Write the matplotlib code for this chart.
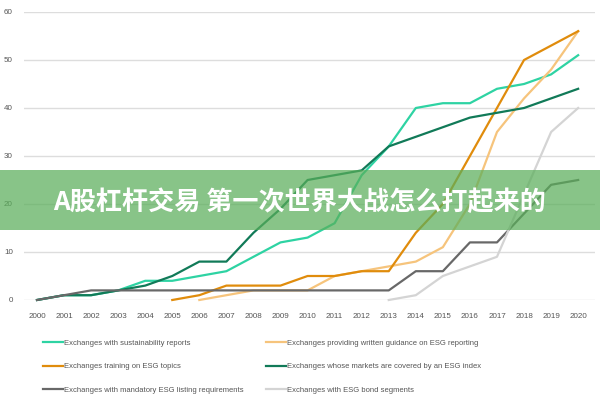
import matplotlib.pyplot as plt
from matplotlib.patches import Rectangle

years = list(range(2000, 2021))

# 各系列数值
sustainability = [0, 1, 1, 2, 4, 4, 5, 6, 9, 12, 13, 16, 26, 32, 40, 41, 41, 44, 45, 47, 51]
guidance_years = list(range(2006, 2021))
guidance = [0, 1, 2, 2, 2, 5, 6, 7, 8, 11, 20, 35, 42, 48, 56]
training_years = list(range(2005, 2021))
training = [0, 1, 3, 3, 3, 5, 5, 6, 6, 14, 20, 30, 40, 50, 53, 56]
esg_index = [0, 1, 1, 2, 3, 5, 8, 8, 14, 19, 25, 26, 27, 32, 34, 36, 38, 39, 40, 42, 44]
mandatory = [0, 1, 2, 2, 2, 2, 2, 2, 2, 2, 2, 2, 2, 2, 6, 6, 12, 12, 18, 24, 25]
bond_years = list(range(2013, 2021))
bond = [0, 1, 5, 7, 9, 22, 35, 40]

labels = ['Exchanges with sustainability reports',
          'Exchanges providing written guidance on ESG reporting',
          'Exchanges training on ESG topics',
          'Exchanges whose markets are covered by an ESG index',
          'Exchanges with mandatory ESG listing requirements',
          'Exchanges with ESG bond segments']
colors = ['#2ed3a3', '#f6c47c', '#e08c0c', '#117a58', '#686868', '#d4d4d4']

banner_text = 'A股杠杆交易 第一次世界大战怎么打起来的'

plt.rcParams['font.family'] = ['Liberation Sans', 'DejaVu Sans']

fig = plt.figure(figsize=(6, 4), dpi=100)
ax = fig.add_axes([0.04, 0.25, 0.952, 0.72])

h = {}
h[0], = ax.plot(years, sustainability, color=colors[0], lw=1.6)
h[1], = ax.plot(guidance_years, guidance, color=colors[1], lw=1.6)
h[2], = ax.plot(training_years, training, color=colors[2], lw=1.6)
h[3], = ax.plot(years, esg_index, color=colors[3], lw=1.6)
h[4], = ax.plot(years, mandatory, color=colors[4], lw=1.6)
h[5], = ax.plot(bond_years, bond, color=colors[5], lw=1.6)
for line in h.values():
    line.set_clip_on(False)

ax.set_xlim(1999.52, 2020.63)
ax.set_ylim(0, 60)
ax.set_yticks(range(0, 61, 10))
ax.set_xticks(years)
ax.tick_params(length=0, labelsize=5.8, colors='#555555', pad=9)
ax.tick_params(axis='y', pad=8)
ax.grid(axis='y', color='#dddddd', lw=1)
ax.set_axisbelow(True)
for s in ax.spines.values():
    s.set_visible(False)

order = [0, 2, 4, 1, 3, 5]
fig.legend([h[i] for i in order], [labels[i] for i in order], ncol=2,
           loc='upper left', bbox_to_anchor=(0.072, 0.151), frameon=False,
           fontsize=5.5, handlelength=2.6, handletextpad=0.15,
           labelspacing=2.1, columnspacing=2.9, borderpad=0, borderaxespad=0,
           labelcolor='#555555')

# 绿色横幅
fig.patches.append(Rectangle((0, 1 - 230 / 400), 1, 60 / 400, transform=fig.transFigure,
                             facecolor='#5aae5a', alpha=0.72, edgecolor='none', zorder=5))
fig.text(53 / 600, 1 - 202 / 400, banner_text, color='white', fontsize=18.8,
         fontweight='bold', va='center', ha='left', zorder=6,
         family=['Noto Sans CJK SC', 'DejaVu Sans'])

fig.savefig('out.png', dpi=100)
